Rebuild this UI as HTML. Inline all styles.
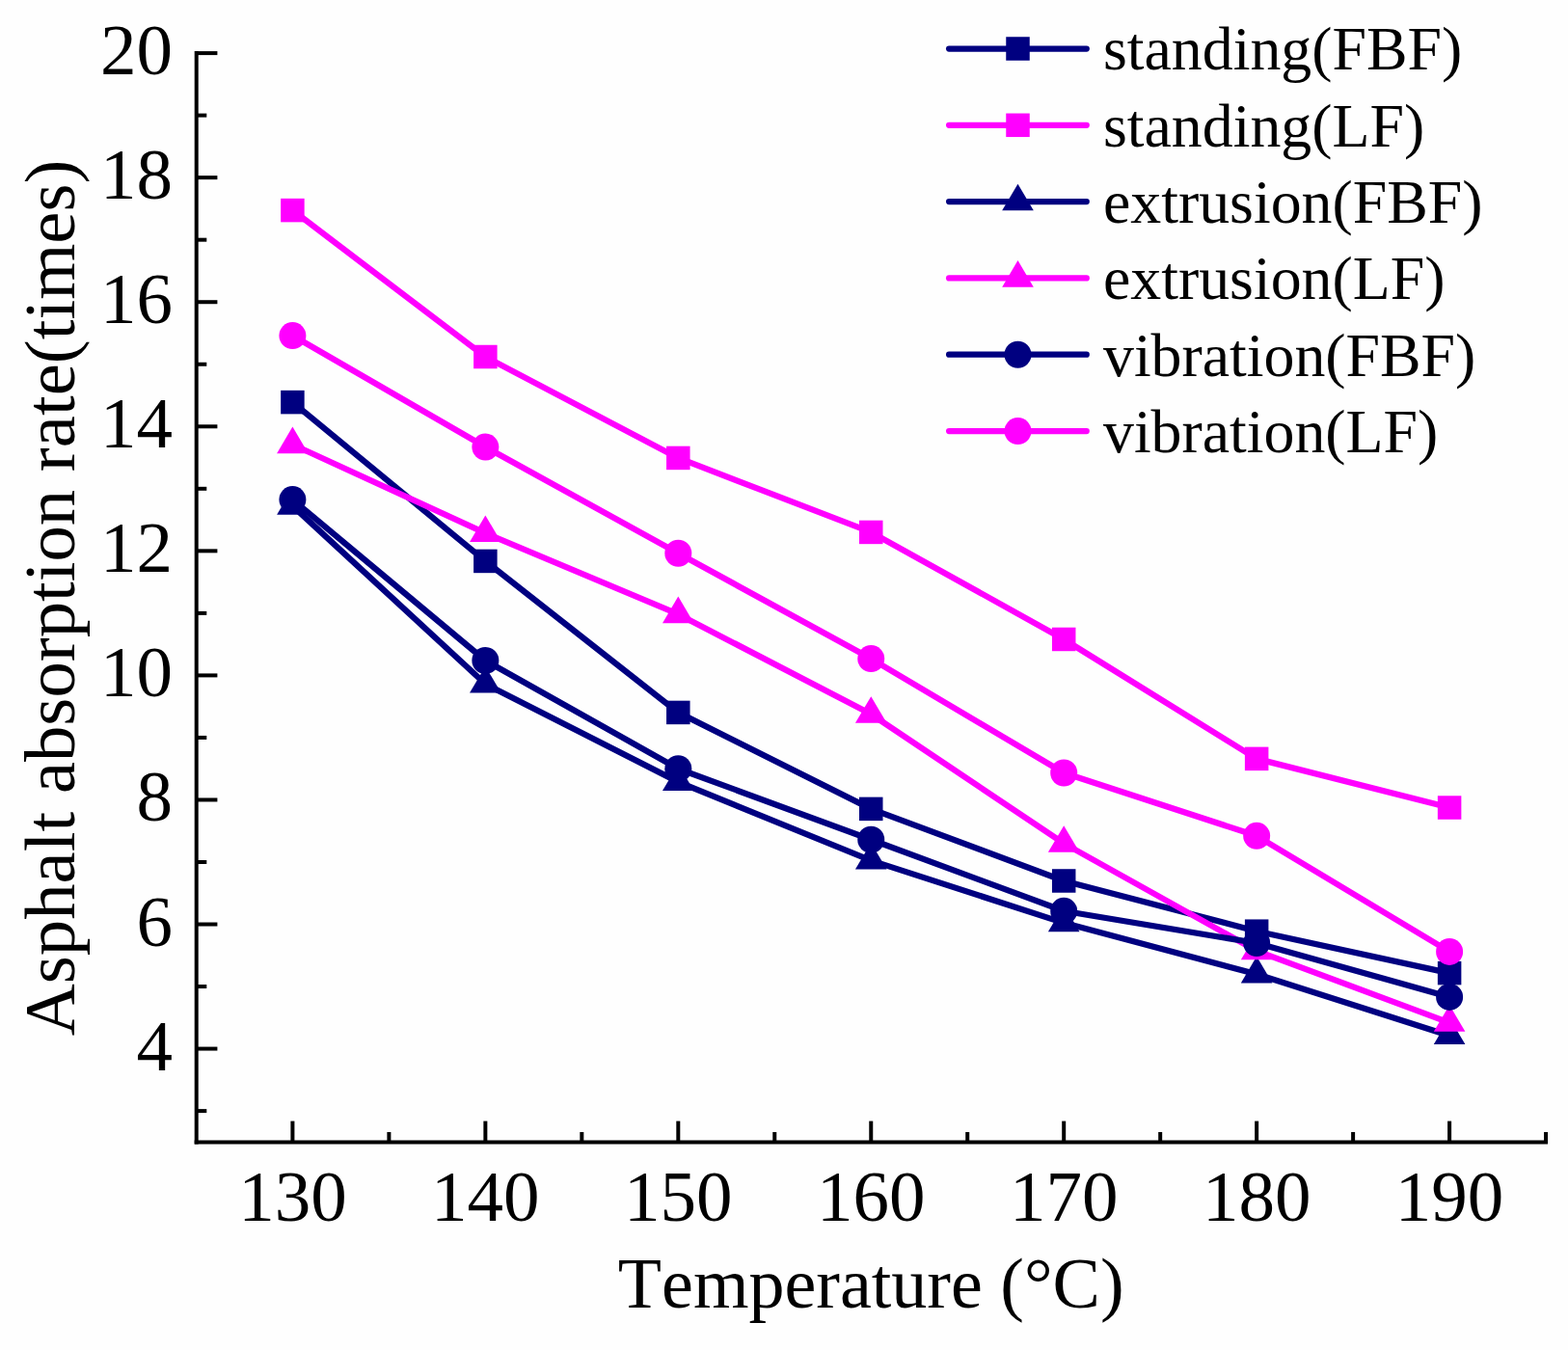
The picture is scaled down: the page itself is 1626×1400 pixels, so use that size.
<!DOCTYPE html>
<html lang="en">
<head>
<meta charset="utf-8">
<title>Asphalt absorption rate vs temperature</title>
<style>
html,body{margin:0;padding:0;background:#fefefe;}
body{width:1626px;height:1400px;overflow:hidden;}
svg{display:block;}
text{font-family:"Liberation Serif",serif;fill:#000;}
.tk{font-size:75px;}
.ttl{font-kerning:none;}
.lg{font-size:63.8px;}
</style>
</head>
<body>
<svg width="1626" height="1400" viewBox="0 0 1626 1400">
<rect x="0" y="0" width="1626" height="1400" fill="#fefefe"/>

<g stroke="#000" stroke-width="4.0" fill="none" stroke-linecap="butt">
<path d="M203.70,53.10 V1186.60"/>
<path d="M201.70,1184.60 H1605.07"/>
<path d="M203.70,1152.11 h10.6"/>
<path d="M203.70,1087.58 h21.7"/>
<path d="M203.70,1023.05 h10.6"/>
<path d="M203.70,958.52 h21.7"/>
<path d="M203.70,893.99 h10.6"/>
<path d="M203.70,829.46 h21.7"/>
<path d="M203.70,764.93 h10.6"/>
<path d="M203.70,700.40 h21.7"/>
<path d="M203.70,635.87 h10.6"/>
<path d="M203.70,571.34 h21.7"/>
<path d="M203.70,506.81 h10.6"/>
<path d="M203.70,442.28 h21.7"/>
<path d="M203.70,377.75 h10.6"/>
<path d="M203.70,313.22 h21.7"/>
<path d="M203.70,248.69 h10.6"/>
<path d="M203.70,184.16 h21.7"/>
<path d="M203.70,119.63 h10.6"/>
<path d="M203.70,55.10 h21.7"/>
<path d="M303.40,1184.60 v-22"/>
<path d="M403.38,1184.60 v-10.6"/>
<path d="M503.35,1184.60 v-22"/>
<path d="M603.33,1184.60 v-10.6"/>
<path d="M703.30,1184.60 v-22"/>
<path d="M803.27,1184.60 v-10.6"/>
<path d="M903.25,1184.60 v-22"/>
<path d="M1003.23,1184.60 v-10.6"/>
<path d="M1103.20,1184.60 v-22"/>
<path d="M1203.18,1184.60 v-10.6"/>
<path d="M1303.15,1184.60 v-22"/>
<path d="M1403.12,1184.60 v-10.6"/>
<path d="M1503.10,1184.60 v-22"/>
<path d="M1603.07,1184.60 v-10.6"/>
</g>
<g class="tk">
<text x="179.1" y="1109.58" text-anchor="end">4</text>
<text x="179.1" y="980.52" text-anchor="end">6</text>
<text x="179.1" y="851.46" text-anchor="end">8</text>
<text x="179.1" y="722.40" text-anchor="end">10</text>
<text x="179.1" y="593.34" text-anchor="end">12</text>
<text x="179.1" y="464.28" text-anchor="end">14</text>
<text x="179.1" y="335.22" text-anchor="end">16</text>
<text x="179.1" y="206.16" text-anchor="end">18</text>
<text x="179.1" y="77.10" text-anchor="end">20</text>
<text x="303.40" y="1266" text-anchor="middle">130</text>
<text x="503.35" y="1266" text-anchor="middle">140</text>
<text x="703.30" y="1266" text-anchor="middle">150</text>
<text x="903.25" y="1266" text-anchor="middle">160</text>
<text x="1103.20" y="1266" text-anchor="middle">170</text>
<text x="1303.15" y="1266" text-anchor="middle">180</text>
<text x="1503.10" y="1266" text-anchor="middle">190</text>
</g>
<text class="ttl" style="font-size:74px" x="903.2" y="1355.8" text-anchor="middle">Temperature (°C)</text>
<text class="ttl" style="font-size:74.7px" transform="translate(76.6,619.9) rotate(-90)" text-anchor="middle">Asphalt absorption rate(times)</text>
<g><polyline points="303.40,417.11 503.35,581.92 703.30,738.92 903.25,838.88 1103.20,913.48 1303.15,965.68 1503.10,1009.11" fill="none" stroke="#000080" stroke-width="6.25" stroke-linejoin="round" stroke-linecap="round"/>
<rect x="291.15" y="404.86" width="24.5" height="24.5" fill="#000080"/>
<rect x="491.10" y="569.67" width="24.5" height="24.5" fill="#000080"/>
<rect x="691.05" y="726.67" width="24.5" height="24.5" fill="#000080"/>
<rect x="891.00" y="826.63" width="24.5" height="24.5" fill="#000080"/>
<rect x="1090.95" y="901.23" width="24.5" height="24.5" fill="#000080"/>
<rect x="1290.90" y="953.43" width="24.5" height="24.5" fill="#000080"/>
<rect x="1490.85" y="996.86" width="24.5" height="24.5" fill="#000080"/>
</g>
<g><polyline points="303.40,218.10 503.35,370.01 703.30,474.93 903.25,551.92 1103.20,662.97 1303.15,786.87 1503.10,837.53" fill="none" stroke="#ff00ff" stroke-width="6.25" stroke-linejoin="round" stroke-linecap="round"/>
<rect x="291.15" y="205.85" width="24.5" height="24.5" fill="#ff00ff"/>
<rect x="491.10" y="357.76" width="24.5" height="24.5" fill="#ff00ff"/>
<rect x="691.05" y="462.68" width="24.5" height="24.5" fill="#ff00ff"/>
<rect x="891.00" y="539.67" width="24.5" height="24.5" fill="#ff00ff"/>
<rect x="1090.95" y="650.72" width="24.5" height="24.5" fill="#ff00ff"/>
<rect x="1290.90" y="774.62" width="24.5" height="24.5" fill="#ff00ff"/>
<rect x="1490.85" y="825.28" width="24.5" height="24.5" fill="#ff00ff"/>
</g>
<g><polyline points="303.40,524.62 503.35,709.31 703.30,810.88 903.25,892.38 1103.20,957.10 1303.15,1010.21 1503.10,1073.90" fill="none" stroke="#000080" stroke-width="6.25" stroke-linejoin="round" stroke-linecap="round"/>
<polygon points="303.40,506.22 319.70,533.82 287.10,533.82" fill="#000080"/>
<polygon points="503.35,690.91 519.65,718.51 487.05,718.51" fill="#000080"/>
<polygon points="703.30,792.48 719.60,820.08 687.00,820.08" fill="#000080"/>
<polygon points="903.25,873.98 919.55,901.58 886.95,901.58" fill="#000080"/>
<polygon points="1103.20,938.70 1119.50,966.30 1086.90,966.30" fill="#000080"/>
<polygon points="1303.15,991.81 1319.45,1019.41 1286.85,1019.41" fill="#000080"/>
<polygon points="1503.10,1055.50 1519.40,1083.10 1486.80,1083.10" fill="#000080"/>
</g>
<g><polyline points="303.40,460.99 503.35,552.82 703.30,636.97 903.25,740.60 1103.20,874.63 1303.15,986.07 1503.10,1060.61" fill="none" stroke="#ff00ff" stroke-width="6.25" stroke-linejoin="round" stroke-linecap="round"/>
<polygon points="303.40,442.59 319.70,470.19 287.10,470.19" fill="#ff00ff"/>
<polygon points="503.35,534.42 519.65,562.02 487.05,562.02" fill="#ff00ff"/>
<polygon points="703.30,618.57 719.60,646.17 687.00,646.17" fill="#ff00ff"/>
<polygon points="903.25,722.20 919.55,749.80 886.95,749.80" fill="#ff00ff"/>
<polygon points="1103.20,856.23 1119.50,883.83 1086.90,883.83" fill="#ff00ff"/>
<polygon points="1303.15,967.67 1319.45,995.27 1286.85,995.27" fill="#ff00ff"/>
<polygon points="1503.10,1042.21 1519.40,1069.81 1486.80,1069.81" fill="#ff00ff"/>
</g>
<g><polyline points="303.40,518.10 503.35,684.98 703.30,797.20 903.25,870.76 1103.20,944.78 1303.15,978.01 1503.10,1033.89" fill="none" stroke="#000080" stroke-width="6.25" stroke-linejoin="round" stroke-linecap="round"/>
<circle cx="303.40" cy="518.10" r="14.0" fill="#000080"/>
<circle cx="503.35" cy="684.98" r="14.0" fill="#000080"/>
<circle cx="703.30" cy="797.20" r="14.0" fill="#000080"/>
<circle cx="903.25" cy="870.76" r="14.0" fill="#000080"/>
<circle cx="1103.20" cy="944.78" r="14.0" fill="#000080"/>
<circle cx="1303.15" cy="978.01" r="14.0" fill="#000080"/>
<circle cx="1503.10" cy="1033.89" r="14.0" fill="#000080"/>
</g>
<g><polyline points="303.40,348.07 503.35,463.57 703.30,573.73 903.25,683.11 1103.20,801.52 1303.15,866.82 1503.10,986.91" fill="none" stroke="#ff00ff" stroke-width="6.25" stroke-linejoin="round" stroke-linecap="round"/>
<circle cx="303.40" cy="348.07" r="14.0" fill="#ff00ff"/>
<circle cx="503.35" cy="463.57" r="14.0" fill="#ff00ff"/>
<circle cx="703.30" cy="573.73" r="14.0" fill="#ff00ff"/>
<circle cx="903.25" cy="683.11" r="14.0" fill="#ff00ff"/>
<circle cx="1103.20" cy="801.52" r="14.0" fill="#ff00ff"/>
<circle cx="1303.15" cy="866.82" r="14.0" fill="#ff00ff"/>
<circle cx="1503.10" cy="986.91" r="14.0" fill="#ff00ff"/>
</g>
<g><line x1="984.1" y1="50.50" x2="1126.75" y2="50.50" stroke="#000080" stroke-width="6.25" stroke-linecap="round"/>
<rect x="1043.25" y="38.25" width="24.5" height="24.5" fill="#000080"/>
<text class="lg" x="1144.0" y="72.40">standing(FBF)</text></g>
<g><line x1="984.1" y1="129.81" x2="1126.75" y2="129.81" stroke="#ff00ff" stroke-width="6.25" stroke-linecap="round"/>
<rect x="1043.25" y="117.56" width="24.5" height="24.5" fill="#ff00ff"/>
<text class="lg" x="1144.0" y="151.71">standing(LF)</text></g>
<g><line x1="984.1" y1="209.12" x2="1126.75" y2="209.12" stroke="#000080" stroke-width="6.25" stroke-linecap="round"/>
<polygon points="1055.50,190.72 1071.80,218.32 1039.20,218.32" fill="#000080"/>
<text class="lg" x="1144.0" y="231.02">extrusion(FBF)</text></g>
<g><line x1="984.1" y1="288.43" x2="1126.75" y2="288.43" stroke="#ff00ff" stroke-width="6.25" stroke-linecap="round"/>
<polygon points="1055.50,270.03 1071.80,297.63 1039.20,297.63" fill="#ff00ff"/>
<text class="lg" x="1144.0" y="310.33">extrusion(LF)</text></g>
<g><line x1="984.1" y1="367.74" x2="1126.75" y2="367.74" stroke="#000080" stroke-width="6.25" stroke-linecap="round"/>
<circle cx="1055.50" cy="367.74" r="14.0" fill="#000080"/>
<text class="lg" x="1144.0" y="389.64">vibration(FBF)</text></g>
<g><line x1="984.1" y1="447.05" x2="1126.75" y2="447.05" stroke="#ff00ff" stroke-width="6.25" stroke-linecap="round"/>
<circle cx="1055.50" cy="447.05" r="14.0" fill="#ff00ff"/>
<text class="lg" x="1144.0" y="468.95">vibration(LF)</text></g>
</svg>
</body>
</html>
